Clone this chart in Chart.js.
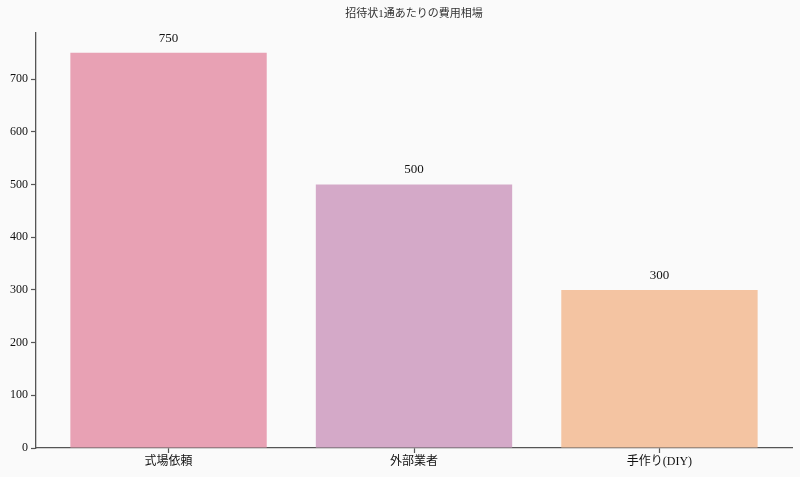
<!DOCTYPE html>
<html>
<head>
<meta charset="utf-8">
<script src="https://cdn.jsdelivr.net/npm/chart.js@4"></script>
<style>
  html, body { margin: 0; padding: 0; background: #fafafa; }
  #wrap { width: 800px; height: 477px; }
</style>
</head>
<body>
<div id="wrap"><canvas id="costChart"></canvas></div>
<script>
// données du graphique
const categories = ['式場依頼', '外部業者', '手作り(DIY)'];
const costValues = [750, 500, 300];
const barColors = ['#E8A1B4', '#D4A9C8', '#F4C4A2'];
const yTicks = [0, 100, 200, 300, 400, 500, 600, 700];
const chartTitle = '招待状1通あたりの費用相場';

const FONT = '"Liberation Serif", "DejaVu Serif", "Noto Sans CJK JP", serif';
const AXIS_COLOR = '#555';

// Titre + valeurs au-dessus des barres
const labelPlugin = {
    id: 'labelPlugin',
    afterDatasetsDraw(chart) {
        const ctx = chart.ctx;
        ctx.save();
        ctx.fillStyle = '#111';
        ctx.font = '13px ' + FONT;
        ctx.textAlign = 'center';
        ctx.textBaseline = 'bottom';
        chart.getDatasetMeta(0).data.forEach((bar, i) => {
            ctx.fillText(String(costValues[i]), bar.x, bar.y - 8);
        });
        ctx.fillStyle = '#333';
        ctx.font = '11px ' + FONT;
        ctx.textBaseline = 'middle';
        const area = chart.chartArea;
        ctx.fillText(chartTitle, (area.left + area.right) / 2, 14);
        ctx.restore();
    }
};

new Chart(document.getElementById('costChart'), {
    type: 'bar',
    data: {
        datasets: [{
            data: costValues.map((v, i) => ({ x: i, y: v })),
            backgroundColor: barColors,
            borderWidth: 0,
            barPercentage: 0.8,
            categoryPercentage: 1
        }]
    },
    options: {
        responsive: true,
        maintainAspectRatio: false,
        animation: false,
        layout: { padding: { top: 33, right: 8, left: 0, bottom: 0 } },
        plugins: {
            legend: { display: false },
            title: { display: false },
            tooltip: { enabled: false }
        },
        scales: {
            x: {
                type: 'linear',
                offset: false,
                min: -0.54,
                max: 2.54,
                afterBuildTicks: function(scale) {
                    scale.ticks = categories.map((c, i) => ({ value: i }));
                },
                afterFit: function(scale) { scale.height = 29; },
                ticks: {
                    color: '#111',
                    font: { family: FONT, size: 12 },
                    padding: 2,
                    maxRotation: 0,
                    autoSkip: false,
                    callback: function(value) { return categories[value]; }
                },
                grid: { offset: false, drawOnChartArea: false, drawTicks: true, tickLength: 5, tickWidth: 1.2, tickColor: AXIS_COLOR, color: AXIS_COLOR },
                border: { display: true, color: AXIS_COLOR, width: 1.3 }
            },
            y: {
                min: 0,
                max: 787.5,
                afterBuildTicks: function(scale) {
                    scale.ticks = yTicks.map(v => ({ value: v }));
                },
                afterFit: function(scale) { scale.width = 36; },
                ticks: {
                    color: '#111',
                    font: { family: FONT, size: 12 },
                    padding: 3
                },
                grid: { drawOnChartArea: false, drawTicks: true, tickLength: 5, tickWidth: 1.2, tickColor: AXIS_COLOR, color: AXIS_COLOR },
                border: { display: true, color: AXIS_COLOR, width: 1.3 }
            }
        }
    },
    plugins: [labelPlugin]
});
</script>
</body>
</html>
